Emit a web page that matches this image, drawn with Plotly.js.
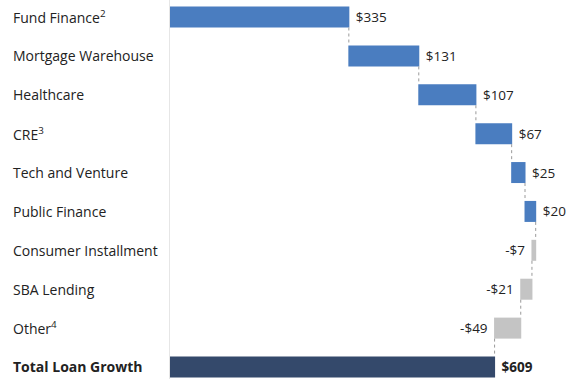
<!DOCTYPE html>
<html>
<head>
<meta charset="utf-8">
<script src="https://cdn.plot.ly/plotly-3.0.1.min.js"></script>
<style>html,body{margin:0;padding:0;background:#fff;}#chart{width:580px;height:379px;}</style>
</head>
<body>
<div id="chart"></div>
<script>
const categories = ["Fund Finance<sup>2</sup>", "Mortgage Warehouse", "Healthcare", "CRE<sup>3</sup>", "Tech and Venture", "Public Finance", "Consumer Installment", "SBA Lending", "Other<sup>4</sup>", "<b>Total Loan Growth</b>"];
const values = [335, 131, 107, 67, 25, 20, -7, -21, -49, 609];
const measures = ["relative","relative","relative","relative","relative","relative","relative","relative","relative","total"];
const valueLabels = [" $335", " $131", " $107", " $67", " $25", " $20", "-$7 ", "-$21 ", "-$49 ", " <b>$609</b>"];

const trace = {
  type: "waterfall",
  orientation: "h",
  y: categories,
  x: values,
  measure: measures,
  text: valueLabels,
  textposition: "outside",
  textfont: {family: "Open Sans, sans-serif", size: 13.5, color: "#222"},
  cliponaxis: false,
  width: 0.54,
  increasing: {marker: {color: "#4a7dc0"}},
  decreasing: {marker: {color: "#c4c4c4"}},
  totals: {marker: {color: "#34496b"}},
  connector: {mode: "between", line: {color: "#9a9a9a", width: 1, dash: "dot"}},
  hoverinfo: "none"
};

const annotations = categories.map((c, i) => ({
  xref: "paper", yref: "y", x: 0, y: c, xshift: -159,
  xanchor: "left", yanchor: "middle", showarrow: false,
  text: c, font: {family: "Open Sans, sans-serif", size: 14, color: "#222"}
}));

const layout = {
  width: 580, height: 379,
  margin: {l: 170, r: 0, t: 0, b: 0},
  paper_bgcolor: "#fff", plot_bgcolor: "#fff",
  showlegend: false,
  xaxis: {range: [0, 768], showgrid: false, zeroline: false, showticklabels: false, showline: false},
  yaxis: {type: "category", range: [9.309, -0.437], showgrid: false, zeroline: false, showticklabels: false,
          showline: true, linecolor: "#e6e6e6", linewidth: 1, ticks: ""},
  annotations: annotations
};

Plotly.newPlot("chart", [trace], layout, {staticPlot: true, displayModeBar: false});
</script>
</body>
</html>
